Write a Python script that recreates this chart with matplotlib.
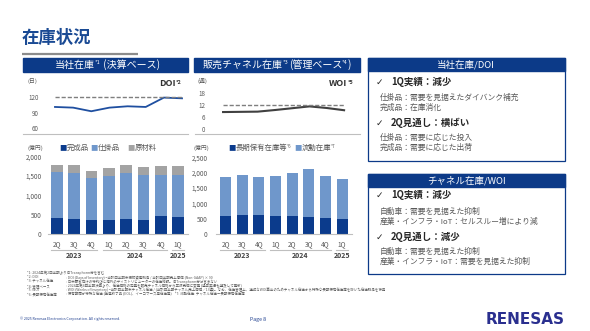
import matplotlib
matplotlib.use('Agg')
import matplotlib.pyplot as plt
from matplotlib.patches import Rectangle

plt.rcParams['font.family'] = ['Noto Sans CJK JP', 'DejaVu Sans']

W, H = 590, 331

# data
quarters = ['2Q', '3Q', '4Q', '1Q', '2Q', '3Q', '4Q', '1Q']
years = ['2023', '2023', '2023', '2024', '2024', '2024', '2024', '2025']

finished = [412, 395, 369, 369, 403, 378, 472, 438]      # 完成品
wip = [1185, 1193, 1073, 1133, 1168, 1141, 1056, 1090]    # 仕掛品
raw = [188, 197, 189, 215, 214, 206, 240, 232]            # 原材料

long_term = [584, 628, 628, 606, 595, 563, 530, 509]      # 長期保有在庫等
liquid = [1267, 1309, 1244, 1288, 1407, 1558, 1353, 1277]  # 流動在庫

doi = [101.3, 100.0, 93.0, 100.0, 102.6, 101.3, 119.4, 118.0]
doi_target = 120
woi = [8.4, 8.5, 8.6, 9.4, 10.3, 11.2, 10.4, 9.3]
woi_target = 12

DARK = '#0b3b8c'
MID = '#6f97cb'
GREY = '#a3a3a3'
HEAD = '#0c3a88'
TXT = '#595959'
LINE = '#bfbfbf'

fig = plt.figure(figsize=(W / 100, H / 100), dpi=100)
bg = fig.add_axes([0, 0, 1, 1])
bg.set_xlim(0, W)
bg.set_ylim(H, 0)
bg.axis('off')


def box(x0, y0, x1, y1):
    return [x0 / W, 1 - y1 / H, (x1 - x0) / W, (y1 - y0) / H]


def rich(x, y, parts):
    """chain text pieces left to right; sup=True raises a piece"""
    prev = base = None
    for s, kw in parts:
        kw = dict(kw)
        sup = kw.pop('sup', False)
        if prev is None:
            t = bg.text(x, y, s, ha='left', va='center', **kw)
            base = t
        elif sup:
            t = bg.annotate(s, xy=(1, 1), xycoords=(prev, base), ha='left', va='top', **kw)
        else:
            t = bg.annotate(s, xy=(1, 0), xycoords=(prev, base), ha='left', va='bottom', **kw)
        prev = t


# title
bg.text(22, 38, '在庫状況', fontsize=12.5, weight='bold', color='#1a4a94', va='center')
bg.plot([22, 138], [54.3, 54.3], color='#8c8c8c', lw=1.6, solid_capstyle='butt')

# section headers
bg.add_patch(Rectangle((23, 58), 165, 14, color=HEAD))
w7 = dict(size=7.2, color='white')
s4 = dict(size=4, color='white', sup=True)
rich(55, 65, [('当社在庫', w7), ('*1', s4), (' (決算ベース)', w7)])
bg.add_patch(Rectangle((194, 58), 166, 14, color=HEAD))
rich(203, 65, [('販売チャネル在庫', w7), ('*3', s4), ('(管理ベース', w7), ('*4', s4), (')', w7)])


def style_axes(ax):
    for k in ['top', 'right', 'left']:
        ax.spines[k].set_visible(False)
    ax.spines['bottom'].set_color(LINE)
    ax.spines['bottom'].set_linewidth(0.8)
    ax.set_facecolor('none')


def year_groups(ax, y_line, y_text, half):
    order = []
    for yr in years:
        if yr not in order:
            order.append(yr)
    tr = ax.get_xaxis_transform()
    for yr in order:
        idx = [i for i, v in enumerate(years) if v == yr]
        x0, x1 = min(idx) - half, max(idx) + half
        ax.plot([x0, x1], [y_line, y_line], transform=tr, clip_on=False, color=LINE, lw=0.8)
        ax.text((x0 + x1) / 2, y_text, yr, transform=tr, ha='center', va='center',
                fontsize=5, weight='bold', color='#404040')


x = list(range(len(quarters)))

# ---- DOI line (left top) ----
ax = fig.add_axes(box(45, 90, 188, 134))
ax.plot(x, doi, color='#1f4fa0', lw=1.3)
ax.hlines(doi_target, 0, len(doi) - 1, colors='#7f7f7f', lw=1.0, linestyles=(0, (3, 1.4)))
ax.set_xlim(-0.55, 7.33)
ax.set_ylim(49, 134.1)
ax.set_yticks([60, 90, 120])
ax.set_xticks([])
ax.tick_params(axis='y', length=0, pad=4.5, labelsize=4.5, labelcolor=TXT)
for k in ax.spines:
    ax.spines[k].set_visible(False)
ax.set_facecolor('none')
bg.plot([23, 188], [134, 134], color=LINE, lw=0.8)
bg.text(27, 81, '(日)', fontsize=4.2, color=TXT, va='center')
rich(159, 84, [('DOI', dict(size=6.5, weight='bold', color='#333333')),
               ('*2', dict(size=3.8, weight='bold', color='#333333', sup=True))])

# ---- WOI line (middle top) ----
ax = fig.add_axes(box(212, 90, 360, 134.3))
ax.plot(x, woi, color='#404040', lw=1.5)
ax.hlines(woi_target, 0, len(woi) - 1, colors='#7f7f7f', lw=1.0, linestyles=(0, (3, 1.4)))
ax.set_xlim(-0.64, 7.92)
ax.set_ylim(-2.6, 19.3)
ax.set_yticks([0, 6, 12, 18])
ax.set_xticks([])
ax.tick_params(axis='y', length=0, pad=5, labelsize=4.5, labelcolor=TXT)
for k in ax.spines:
    ax.spines[k].set_visible(False)
ax.set_facecolor('none')
bg.plot([195, 360], [134.3, 134.3], color=LINE, lw=0.8)
bg.text(197, 81, '(週)', fontsize=4.2, color=TXT, va='center')
rich(329, 84, [('WOI', dict(size=6.5, weight='bold', color='#333333')),
               ('*5', dict(size=3.8, weight='bold', color='#333333', sup=True))])

# ---- company inventory bars ----
ax = fig.add_axes(box(48, 150, 188, 234.3))
ax.bar(x, finished, width=0.68, color=DARK)
b2 = [a for a in finished]
ax.bar(x, wip, width=0.68, bottom=b2, color=MID)
b3 = [a + b for a, b in zip(finished, wip)]
ax.bar(x, raw, width=0.68, bottom=b3, color=GREY)
ax.set_xlim(-0.52, 7.58)
ax.set_ylim(0, 2172.7)
ax.set_yticks(range(0, 2001, 500))
ax.set_yticklabels([f'{v:,}' for v in range(0, 2001, 500)])
ax.set_xticks(x)
ax.set_xticklabels(quarters)
ax.tick_params(axis='y', length=0, pad=4.5, labelsize=4.6, labelcolor=TXT)
ax.tick_params(axis='x', length=0, pad=4.5, labelsize=4.8, labelcolor=TXT)
style_axes(ax)
year_groups(ax, -0.186, -0.257, 0.34)
bg.text(27, 148, '(億円)', fontsize=4.2, color=TXT, va='center')
leg = dict(size=5.3, color=TXT)
rich(59, 148, [('■', dict(size=5.3, color=DARK)), ('完成品', leg)])
rich(90, 148, [('■', dict(size=5.3, color=MID)), ('仕掛品', leg)])
rich(127, 148, [('■', dict(size=5.3, color=GREY)), ('原材料', leg)])

# ---- channel inventory bars ----
ax = fig.add_axes(box(216, 150, 352, 234.3))
ax.bar(x, long_term, width=0.66, color=DARK)
ax.bar(x, liquid, width=0.66, bottom=long_term, color=MID)
ax.set_xlim(-0.577, 7.6)
ax.set_ylim(0, 2737)
ax.set_yticks(range(0, 2501, 500))
ax.set_yticklabels([f'{v:,}' for v in range(0, 2501, 500)])
ax.set_xticks(x)
ax.set_xticklabels(quarters)
ax.tick_params(axis='y', length=0, pad=6, labelsize=4.6, labelcolor=TXT)
ax.tick_params(axis='x', length=0, pad=4.5, labelsize=4.8, labelcolor=TXT)
style_axes(ax)
year_groups(ax, -0.186, -0.257, 0.36)
bg.text(194, 148, '(億円)', fontsize=4.2, color=TXT, va='center')
rich(228, 148, [('■', dict(size=5.3, color=DARK)), ('長期保有在庫等', leg),
                ('*6', dict(size=3.2, color=TXT, sup=True))])
rich(294, 148, [('■', dict(size=5.3, color=MID)), ('流動在庫', leg),
                ('*7', dict(size=3.2, color=TXT, sup=True))])

# ---- right hand comment boxes ----
def panel(y0, y1, title, lines):
    bg.add_patch(Rectangle((368, y0), 197, y1 - y0, fill=False, ec=HEAD, lw=0.9))
    bg.add_patch(Rectangle((368, y0), 197, 12.5, color=HEAD))
    bg.text(466, y0 + 6.5, title, ha='center', va='center', fontsize=6.8, color='white')
    for yy, s, bold in lines:
        if bold:
            bg.text(376, yy, '✓', fontsize=6.5, color='#262626', va='center',
                    family=['DejaVu Sans'])
            bg.text(391, yy, s, fontsize=6.8, weight='bold', color='#262626', va='center')
        else:
            bg.text(380, yy, s, fontsize=5.6, color=TXT, va='center')


panel(58, 161, '当社在庫/DOI', [
    (82, '1Q実績：減少', True),
    (98, '仕掛品：需要を見据えたダイバンク補充', False),
    (108, '完成品：在庫消化', False),
    (123, '2Q見通し：横ばい', True),
    (138, '仕掛品：需要に応じた投入', False),
    (148, '完成品：需要に応じた出荷', False),
])
panel(174, 274, 'チャネル在庫/WOI', [
    (195, '1Q実績：減少', True),
    (212, '自動車：需要を見据えた抑制', False),
    (222, '産業・インフラ・IoT：セルスルー増により減', False),
    (237, '2Q見通し：減少', True),
    (252, '自動車：需要を見据えた抑制', False),
    (262, '産業・インフラ・IoT：需要を見据えた抑制', False),
])

# ---- footnotes ----
notes = [
    ('*1: 2024年第2四半期より旧Transphorm分を含む', ''),
    ('*2: DOI', ': DOI (Days of Inventory) =当該四半期末棚卸資産残高 / 当該四半期売上原価 (Non-GAAP) × 90'),
    ('*3: チャネル在庫', ': 日米顧客向けの特約店と海外のディストリビューターの在庫総額。旧Transphorm分は含まない'),
    ('*4: 管理ベース', ': 2024年第4四半期決算より、在庫価格の定義を販売チャネル価格から正味売価に変更 (過去実績も遡及して更新)'),
    ('*5: WOI', ': WOI (Weeks of Inventory) =当該四半期末チャネル在庫 / (当該四半期チャネル売上原価／13週)。'
                'なお、在庫管理上、適切なWOI算出のためチャネル在庫から特殊な長期保有在庫等を除いた在庫残高を使用'),
    ('*6: 長期保有在庫等', ': 保有期間が特殊な在庫 (生産終了品 (EOL)、イーコマース用在庫等)    *7: 流動在庫: チャネル在庫－長期保有在庫等'),
]
for i, (k, v) in enumerate(notes):
    yy = 272.5 + 4.2 * i + (0.8 if i else 0)
    bg.text(27, yy, k, fontsize=2.5, color=TXT, va='center')
    if v:
        bg.text(66, yy, v, fontsize=2.5, color=TXT, va='center')

# ---- footer ----
bg.text(20, 319, '© 2025 Renesas Electronics Corporation. All rights reserved.',
        fontsize=2.6, color='#1f3f8f', va='center')
bg.text(258, 319, 'Page 8', fontsize=3.8, color='#1f3f8f', va='center', ha='center')
bg.text(525, 319, 'RENESAS', fontsize=11, weight='bold', color='#2a2f8f',
        va='center', ha='center', family=['DejaVu Sans'])

fig.savefig('out.png', dpi=100)
